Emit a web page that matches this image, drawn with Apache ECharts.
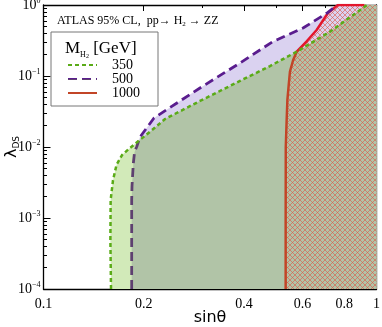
<!DOCTYPE html>
<html>
<head>
<meta charset="utf-8">
<script src="https://cdn.jsdelivr.net/npm/echarts@6/dist/echarts.min.js"></script>
<style>
  html, body { margin: 0; padding: 0; background: #fff; }
  #chart { width: 382px; height: 327px; }
</style>
</head>
<body>
<div id="chart"></div>
<script>
// 各质量下的排除曲线 [sinθ, λDS]
const curve350 = [
  [0.1595, 1e-4], [0.1588, 4.9e-4], [0.1591, 0.0018], [0.1617, 0.0034], [0.1657, 0.0056],
  [0.1721, 0.0077], [0.1819, 0.0097], [0.1897, 0.0114], [0.2089, 0.0164], [0.2318, 0.0248],
  [0.2951, 0.0445], [0.3891, 0.0851], [0.4788, 0.138], [0.576, 0.22], [0.7249, 0.421],
  [0.9365, 1],
]
const curve500 = [
  [0.184, 1e-4], [0.184, 0.0018], [0.1844, 0.0028], [0.1861, 0.0059], [0.1877, 0.0085],
  [0.1905, 0.0101], [0.1949, 0.0138], [0.2147, 0.0256], [0.2951, 0.0678], [0.3891, 0.1525],
  [0.4889, 0.306], [0.6017, 0.474], [0.7085, 0.764], [0.761, 1],
]
const curve1000 = [
  [0.5336, 1e-4], [0.5336, 0.001], [0.534, 0.01], [0.5373, 0.024], [0.54, 0.046],
  [0.545, 0.075], [0.5497, 0.115], [0.562, 0.168], [0.576, 0.22], [0.618, 0.311],
  [0.661, 0.445], [0.715, 0.772], [0.766, 1], [0.92, 1],
]
// 350 和 500 两条线的交点
const crossPoint = [0.193, 0.0122]
// 右上角，用来封闭填充区域
const topRight = [1, 1]

// 刻度
const xLabels = [0.1, 0.2, 0.4, 0.6, 0.8, 1]
const xMinor = [0.3, 0.5, 0.7, 0.9]
const yLabels = [1e-4, 1e-3, 1e-2, 1e-1, 1]
const yMinorMul = [2, 3, 4, 5, 6, 7, 8, 9]
const legendNames = ['350', '500', '1000']

const serif = 'Liberation Serif'

// y轴小刻度
const yMinor = []
yLabels.slice(0, -1).forEach((d) => {
  yMinorMul.forEach((m) => yMinor.push(d * m))
})

// 重叠区域 = 500 线下半段 + 交点 + 350 线上半段
const overlap = curve500
  .filter((p) => p[1] < crossPoint[1])
  .concat([crossPoint])
  .concat(curve350.filter((p) => p[1] > crossPoint[1]))

// 红色交叉网格
const hatch = document.createElement('canvas')
hatch.width = 5
hatch.height = 5
const hctx = hatch.getContext('2d')
hctx.strokeStyle = 'rgba(222,85,70,0.6)'
hctx.lineWidth = 1
hctx.beginPath()
hctx.moveTo(0, 0)
hctx.lineTo(5, 5)
hctx.moveTo(5, 0)
hctx.lineTo(0, 5)
hctx.stroke()

function expLabel(v) {
  const e = Math.round(Math.log10(v))
  return '{b|10}{e|' + (e < 0 ? '\u2212' + -e : e) + '}'
}

// 坐标轴（主刻度 + 小刻度，上下左右都有）
function xAxisOf(pos, ticks, len, withLabel) {
  return {
    type: 'log',
    position: pos,
    min: 0.1,
    max: 1,
    axisLine: { show: withLabel !== null, lineStyle: { color: '#000', width: 1.3 } },
    axisTick: { inside: true, length: len, customValues: ticks, lineStyle: { color: '#000', width: 1 } },
    axisLabel: withLabel
      ? {
          customValues: xLabels,
          formatter: (v) => String(+v.toFixed(1)),
          fontFamily: serif,
          fontSize: 14,
          color: '#000',
          margin: 8,
        }
      : { show: false },
    splitLine: { show: false },
    minorTick: { show: false },
  }
}
function yAxisOf(pos, ticks, len, withLabel) {
  return {
    type: 'log',
    position: pos,
    min: 1e-4,
    max: 1,
    axisLine: { show: withLabel !== null, lineStyle: { color: '#000', width: 1.3 } },
    axisTick: { inside: true, length: len, customValues: ticks, lineStyle: { color: '#000', width: 1 } },
    axisLabel: withLabel
      ? {
          customValues: yLabels,
          formatter: expLabel,
          margin: 3,
          rich: {
            b: { fontFamily: serif, fontSize: 14, color: '#000', lineHeight: 16 },
            e: { fontFamily: serif, fontSize: 8, color: '#000', verticalAlign: 'top' },
          },
        }
      : { show: false },
    splitLine: { show: false },
    minorTick: { show: false },
  }
}

const xAxes = [
  xAxisOf('bottom', xLabels, 6, true),
  xAxisOf('bottom', xMinor, 3, null),
  xAxisOf('top', xLabels, 6, false),
  xAxisOf('top', xMinor, 3, null),
]
xAxes[0].name = 'sin\u03b8'
xAxes[0].nameLocation = 'middle'
xAxes[0].nameGap = 21
xAxes[0].nameMoveOverlap = false
xAxes[0].nameTextStyle = { fontFamily: 'DejaVu Sans', fontSize: 16, color: '#000' }

const yAxes = [
  yAxisOf('left', yLabels, 7, true),
  yAxisOf('left', yMinor, 3.5, null),
  yAxisOf('right', yLabels, 7, false),
  yAxisOf('right', yMinor, 3.5, null),
]
yAxes[0].name = '{l|\u03bb}{s|DS}'
yAxes[0].nameLocation = 'middle'
yAxes[0].nameGap = 22
yAxes[0].nameRotate = 90
yAxes[0].nameMoveOverlap = false
yAxes[0].nameTextStyle = {
  rich: {
    l: { fontFamily: 'DejaVu Sans', fontSize: 16, color: '#000', lineHeight: 20 },
    s: { fontFamily: 'DejaVu Sans', fontSize: 9, color: '#000', verticalAlign: 'bottom' },
  },
}

function fill(name, data, color) {
  return {
    name: name,
    type: 'line',
    data: data,
    symbol: 'none',
    lineStyle: { width: 0 },
    areaStyle: { color: color, opacity: 1, origin: 'start' },
    silent: true,
  }
}
function grad(top, bottom, at) {
  return {
    type: 'linear', x: 0, y: 0, x2: 0, y2: 1,
    colorStops: [
      { offset: 0, color: top },
      { offset: at, color: top },
      { offset: at + 0.005, color: bottom },
      { offset: 1, color: bottom },
    ],
  }
}

const option = {
  animation: false,
  backgroundColor: '#fff',
  grid: { left: 43.5, right: 5.5, top: 5, bottom: 38, containLabel: false, outerBoundsMode: 'none' },
  title: [
    {
      text: '{a|ATLAS 95% CL,  pp\u2192 H}{s|2}{a| \u2192 ZZ}',
      left: 57,
      top: 13,
      padding: 0,
      textStyle: {
        fontWeight: 'normal',
        rich: {
          a: { fontFamily: serif, fontSize: 12, fontWeight: 'normal', color: '#000', lineHeight: 15 },
          s: { fontFamily: serif, fontSize: 7, fontWeight: 'normal', color: '#000', verticalAlign: 'bottom' },
        },
      },
    },
    {
      text: '{m|M}{h|H}{t|2}{m| [GeV]}',
      left: 65,
      top: 39,
      padding: 0,
      textStyle: {
        fontWeight: 'normal',
        rich: {
          m: { fontFamily: serif, fontSize: 17, fontWeight: 'normal', color: '#000', lineHeight: 20 },
          h: { fontFamily: serif, fontSize: 8, fontWeight: 'normal', color: '#000', verticalAlign: 'bottom', lineHeight: 13 },
          t: { fontFamily: serif, fontSize: 6, fontWeight: 'normal', color: '#000', verticalAlign: 'bottom', lineHeight: 11 },
        },
      },
    },
  ],
  legend: {
    data: legendNames,
    orient: 'vertical',
    left: 51,
    top: 32,
    padding: [26, 18, 6, 16],
    borderColor: '#777',
    borderWidth: 1,
    itemWidth: 29,
    itemHeight: 8,
    itemGap: 0,
    selectedMode: false,
    itemStyle: { opacity: 0 },
    textStyle: { fontFamily: serif, fontSize: 14, color: '#000', lineHeight: 14, padding: [0, 0, 0, 10] },
  },
  xAxis: xAxes,
  yAxis: yAxes,
  series: [
    fill('f500', curve500.concat([topRight]), '#dad2f0'),
    fill('f350', curve350.concat([topRight]), '#d2eab9'),
    fill('both', overlap.concat([topRight]), '#b1c4a7'),
    fill('f1000', curve1000.concat([topRight]), { image: hatch, repeat: 'repeat' }),
    {
      name: '1000',
      type: 'line',
      data: curve1000,
      symbol: 'none',
      lineStyle: { width: 2.5, color: grad('#e3162d', '#c24527', 0.164) },
      itemStyle: { color: '#e3162d' },
    },
    {
      name: '500',
      type: 'line',
      data: curve500,
      symbol: 'none',
      lineStyle: { width: 2.8, type: [9, 5], color: grad('#5a1d8e', '#5e4070', 0.478) },
      itemStyle: { color: '#5a1d8e' },
    },
    {
      name: '350',
      type: 'line',
      data: curve350,
      symbol: 'none',
      lineStyle: { width: 2.5, type: [4, 3], color: '#5aab17' },
      itemStyle: { color: '#5aab17' },
    },
  ],
}
echarts.init(document.getElementById('chart')).setOption(option)
</script>
</body>
</html>
